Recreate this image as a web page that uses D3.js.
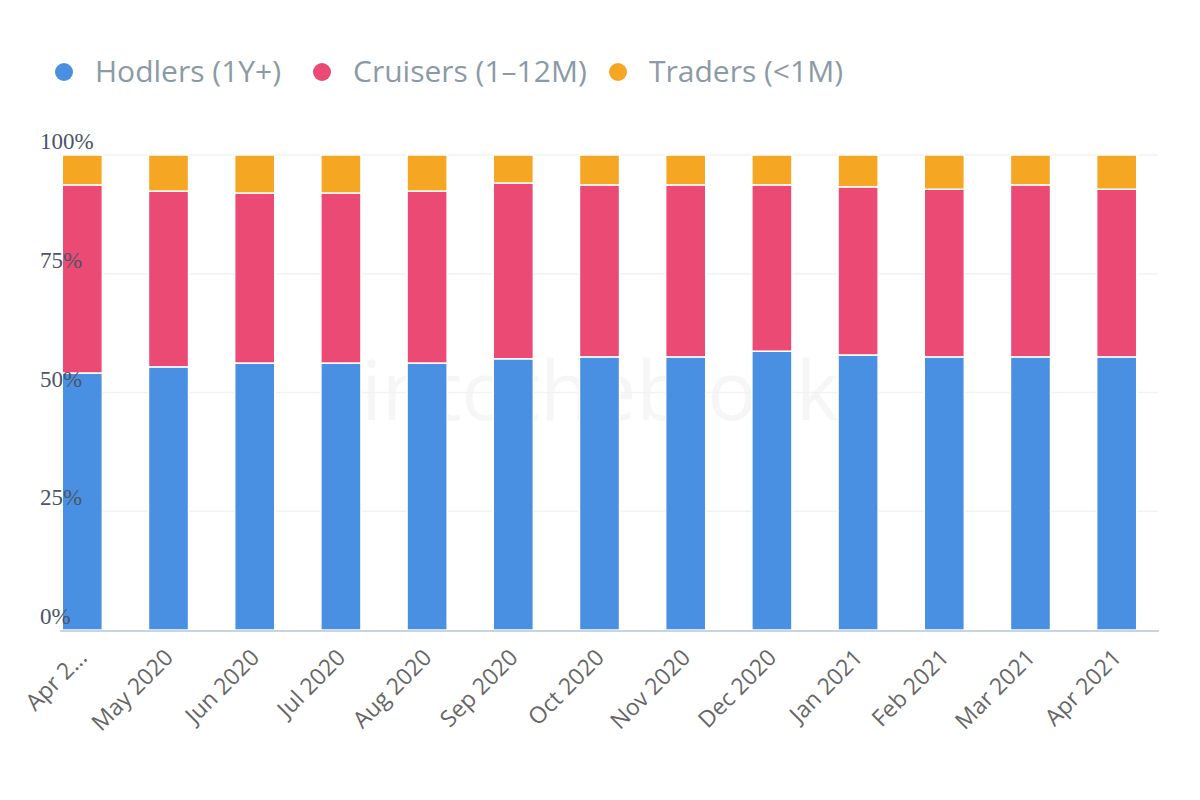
<!DOCTYPE html>
<html>
<head>
<meta charset="utf-8">
<script src="https://d3js.org/d3.v7.min.js"></script>
<style>
  body { margin: 0; background: #fff; }
  svg { display: block; }
</style>
</head>
<body>
<div id="chart"></div>
<script>
const months = ["Apr 2020", "May 2020", "Jun 2020", "Jul 2020", "Aug 2020", "Sep 2020",
    "Oct 2020", "Nov 2020", "Dec 2020", "Jan 2021", "Feb 2021", "Mar 2021", "Apr 2021"];
const hodlers = [54.1, 55.4, 56.2, 56.2, 56.2, 57.1, 57.5, 57.5, 58.7, 57.9, 57.5, 57.5, 57.5];
const cruisers = [39.6, 37.0, 35.8, 35.8, 36.2, 37.0, 36.2, 36.2, 35.0, 35.4, 35.3, 36.2, 35.3];
const traders = [6.3, 7.6, 8.0, 8.0, 7.6, 5.9, 6.3, 6.3, 6.3, 6.7, 7.2, 6.3, 7.2];
const yTicks = [0, 25, 50, 75, 100];

const seriesNames = ["Hodlers (1Y+)", "Cruisers (1\u201312M)", "Traders (<1M)"];
const colors = ["#4a90e2", "#ea4a73", "#f5a623"];

const width = 1200, height = 800;

const svg = d3.select("#chart").append("svg")
    .attr("width", width)
    .attr("height", height);

const rows = months.map(function (m, i) {
    return {month: m, h: hodlers[i], c: cruisers[i], t: traders[i]};
});
const stacked = d3.stack().keys(["h", "c", "t"])(rows);

const x = d3.scaleBand().domain(months).range([39, 1160]).paddingInner(0.535).paddingOuter(0.27);
const y = d3.scaleLinear().domain([0, 100]).range([630, 155]);

// watermark
svg.append("text")
    .attr("x", 600)
    .attr("y", 420)
    .attr("text-anchor", "middle")
    .attr("font-family", "Open Sans, sans-serif")
    .attr("font-size", 82)
    .attr("fill", "#000")
    .attr("opacity", 0.03)
    .text("intotheblock");

// grid
svg.append("g")
    .selectAll("line")
    .data(yTicks.filter(d => d > 0))
    .enter().append("line")
    .attr("x1", 60).attr("x2", 1158)
    .attr("y1", d => y(d)).attr("y2", d => y(d))
    .attr("stroke", "#f2f2f2")
    .attr("stroke-width", 1.5);

// bars
svg.selectAll(".series")
    .data(stacked)
    .enter().append("g")
    .attr("class", "series")
    .attr("fill", (d, i) => colors[i])
    .selectAll("rect")
    .data(d => d)
    .enter().append("rect")
    .attr("x", d => x(d.data.month))
    .attr("width", x.bandwidth())
    .attr("y", d => y(d[1]))
    .attr("height", d => y(d[0]) - y(d[1]))
    .attr("stroke", "#fff")
    .attr("stroke-width", 1.5);

// y labels, drawn over the bars
svg.append("g")
    .selectAll("text")
    .data(yTicks)
    .enter().append("text")
    .attr("x", 40)
    .attr("y", d => y(d) - 6)
    .attr("font-family", "Liberation Serif, serif")
    .attr("font-size", 23)
    .attr("fill", "#4a5568")
    .text(d => d + "%");

// x axis line
svg.append("line")
    .attr("x1", 60).attr("x2", 1159)
    .attr("y1", 631).attr("y2", 631)
    .attr("stroke", "#c8d3e6")
    .attr("stroke-width", 2);

svg.append("g")
    .selectAll("text")
    .data(months)
    .enter().append("text")
    .attr("transform", d => "translate(" + (x(d) + x.bandwidth() / 2 + 6) + ",659) rotate(-45)")
    .attr("text-anchor", "end")
    .attr("font-family", "Open Sans, sans-serif")
    .attr("font-size", 23)
    .attr("fill", "#666")
    .text((d, i) => i === 0 ? "Apr 2\u2026" : d);

// legend
const legend = svg.append("g");
const legendX = [64, 322, 618];
seriesNames.forEach(function (name, i) {
    legend.append("circle")
        .attr("cx", legendX[i])
        .attr("cy", 72)
        .attr("r", 9)
        .attr("fill", colors[i]);
    legend.append("text")
        .attr("x", legendX[i] + 31)
        .attr("y", 82)
        .attr("font-family", "Open Sans, sans-serif")
        .attr("font-size", 30)
        .attr("fill", "#8c9aa6")
        .text(name);
});
</script>
</body>
</html>
